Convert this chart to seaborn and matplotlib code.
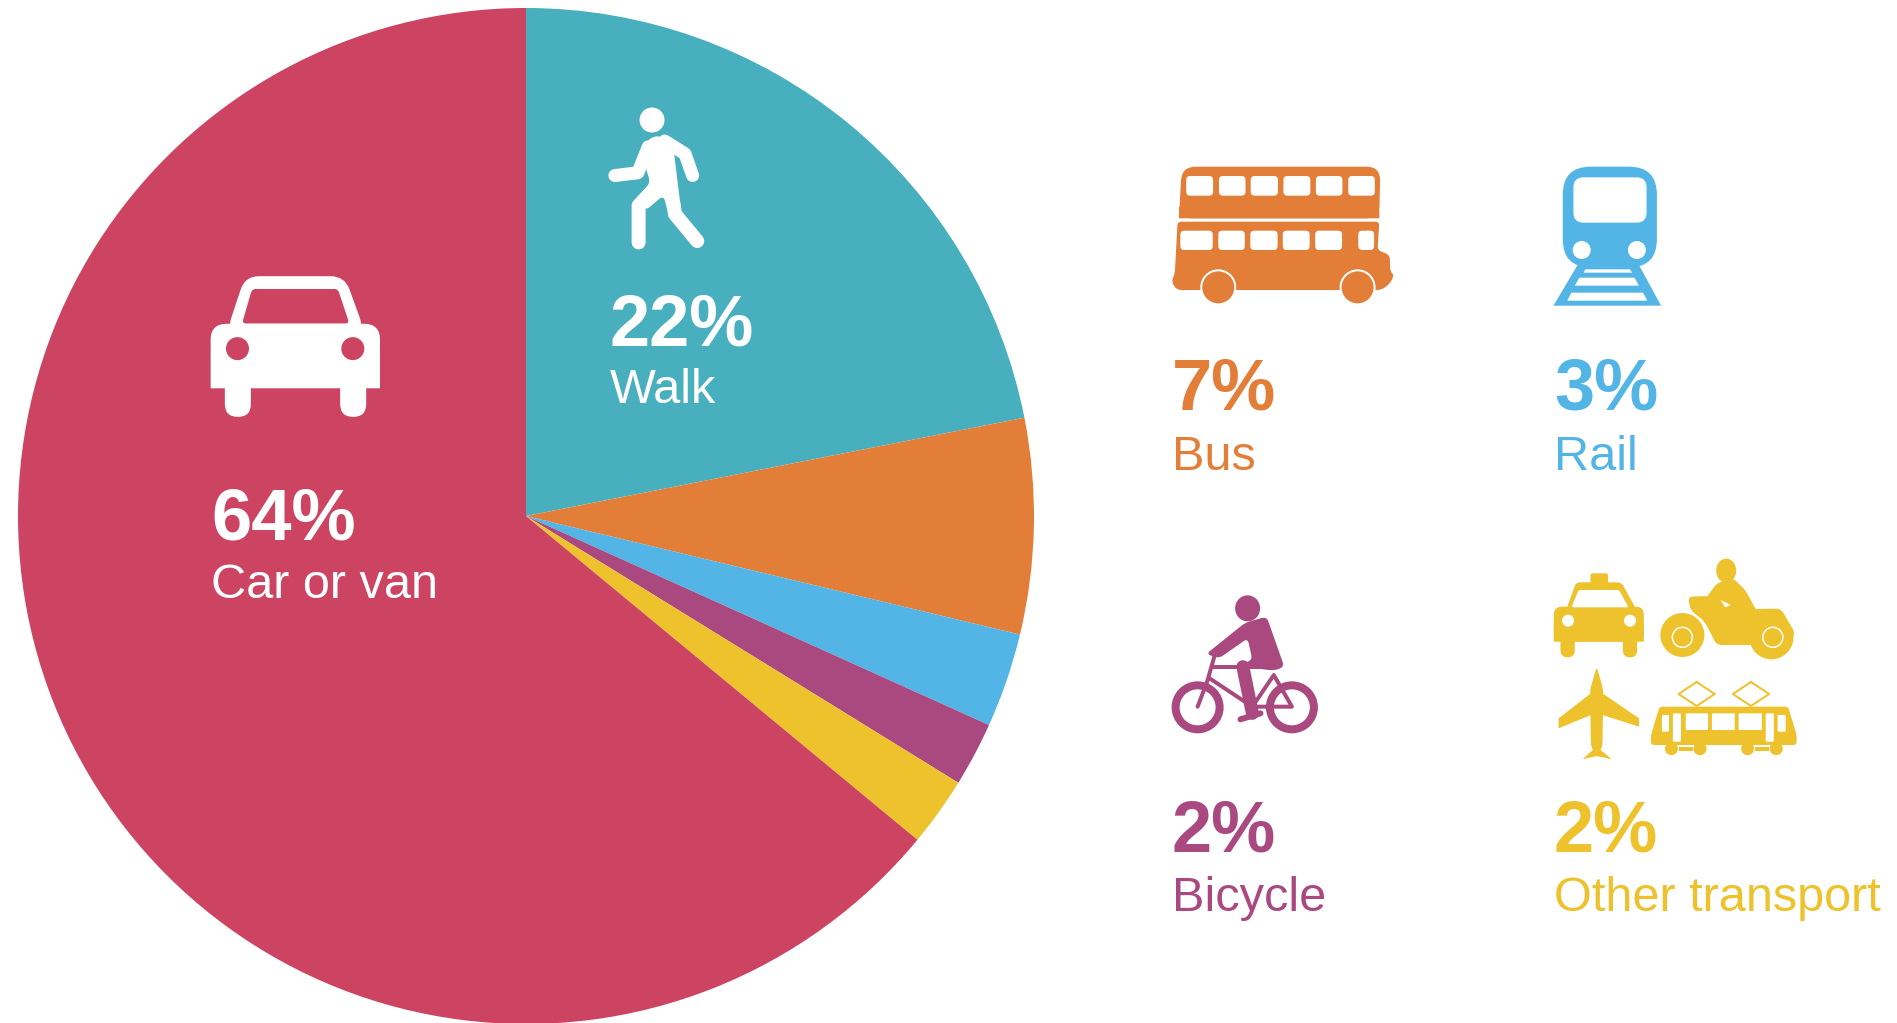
import math
import matplotlib
matplotlib.use("Agg")
import matplotlib.pyplot as plt
import seaborn as sns
from matplotlib.patches import Circle, Ellipse, FancyBboxPatch, Polygon, PathPatch
from matplotlib.path import Path
from matplotlib.lines import Line2D

# ---- data ----
categories = ["Walk", "Bus", "Rail", "Bicycle", "Other transport", "Car or van"]
shares = [21.9, 6.85, 3.0, 2.05, 2.2, 64.0]
colours = ["#47AFBE", "#E37E38", "#53B5E6", "#A9497F", "#EDC22C", "#CC4461"]

sns.set_theme(style="white")
plt.rcParams["font.family"] = ["Liberation Sans", "DejaVu Sans"]
palette = sns.color_palette(colours)
col = dict(zip(categories, palette))
W = (1, 1, 1)

fig = plt.figure(figsize=(18.97, 10.23), dpi=100, facecolor="white")
PW, PH = 1897, 1023
cx, cy, R = 526, 516, 508
axp = fig.add_axes([(cx - R) / PW, (PH - cy - R) / PH, 2 * R / PW, 2 * R / PH])
wedges, _ = axp.pie(shares, colors=palette, startangle=90, counterclock=False,
                    radius=1, wedgeprops=dict(linewidth=0))
for w in wedges:
    w.set_clip_on(False)
axp.set_xlim(-1, 1)
axp.set_ylim(-1, 1)
axp.axis("off")

ax = fig.add_axes([0, 0, 1, 1], facecolor="none")
ax.set_xlim(0, PW)
ax.set_ylim(PH, 0)
ax.axis("off")

# ---- labels ----
label_pos = {
    "Walk": (610, 345, 403), "Car or van": (211, 539, 598),
    "Bus": (1172, 410, 470), "Rail": (1554, 410, 470),
    "Bicycle": (1172, 852, 911), "Other transport": (1554, 852, 911),
}
for name, share in zip(categories, shares):
    x, y1, y2 = label_pos[name]
    c = W if name in ("Walk", "Car or van") else col[name]
    ax.text(x, y1, f"{round(share)}%", color=c, fontsize=52, fontweight="bold", va="baseline", ha="left")
    ax.text(x, y2, name, color=c, fontsize=35, va="baseline", ha="left")

# ---- icon helpers (decoration, in pixel space) ----
def mapper(x0, y0, kx, ky):
    return lambda p: (x0 + p[0] / kx, y0 + p[1] / ky)

def poly(m, pts, c, r=0, z=3):
    xy = [m(p) for p in pts]
    n = len(xy)
    if r <= 0:
        ax.add_patch(Polygon(xy, closed=True, fc=c, ec="none", zorder=z))
        return
    verts, codes = [], []
    for i in range(n):
        p0, p1, p2 = xy[i - 1], xy[i], xy[(i + 1) % n]
        d1 = math.dist(p0, p1)
        d2 = math.dist(p1, p2)
        t1 = min(r, d1 / 2) / d1
        t2 = min(r, d2 / 2) / d2
        a = (p1[0] + (p0[0] - p1[0]) * t1, p1[1] + (p0[1] - p1[1]) * t1)
        b = (p1[0] + (p2[0] - p1[0]) * t2, p1[1] + (p2[1] - p1[1]) * t2)
        verts += [a, p1, b]
        codes += [Path.MOVETO if i == 0 else Path.LINETO, Path.CURVE3, Path.CURVE3]
    verts.append(verts[0])
    codes.append(Path.CLOSEPOLY)
    ax.add_patch(PathPatch(Path(verts, codes), fc=c, ec="none", zorder=z))

def rrect(m, x0, y0, x1, y1, r, c, z=3):
    a, b = m((x0, y0)), m((x1, y1))
    r = min(r, abs(b[0] - a[0]) / 2, abs(b[1] - a[1]) / 2)
    ax.add_patch(FancyBboxPatch((a[0], a[1]), b[0] - a[0], b[1] - a[1],
                                boxstyle=f"round,pad=0,rounding_size={r}",
                                fc=c, ec="none", zorder=z))

def circ(m, p, r, c, z=3, ec=None, lw=0):
    ax.add_patch(Circle(m(p), r, fc=c, ec=ec or "none", lw=lw * 0.72, zorder=z))

def line(m, pts, c, w, z=3, cap="round"):
    xy = [m(p) for p in pts]
    ax.add_line(Line2D([q[0] for q in xy], [q[1] for q in xy], color=c, lw=w * 0.72,
                       solid_capstyle=cap, solid_joinstyle="round", zorder=z))

# bus
m = mapper(1150, 140, 2.9, 3)
c = col["Bus"]
poly(m, [(84, 235), (92, 80), (668, 80), (665, 235)], c, 14)
rrect(m, 84, 200, 665, 235, 0, c)
poly(m, [(80, 245), (665, 245), (660, 330), (695, 345), (697, 395), (708, 405), (695, 432),
         (670, 450), (78, 450), (62, 425), (72, 400)], c, 4)
for a, b in [(105, 183), (200, 277), (292, 371), (387, 465), (481, 558), (575, 652)]:
    rrect(m, a, 108, b, 167, 4, W, 4)
for a, b in [(88, 182), (198, 275), (291, 370), (385, 463), (479, 557), (604, 650)]:
    rrect(m, a, 272, b, 330, 4, W, 4)
for p in [(198, 442), (602, 442)]:
    circ(m, p, 18, W, 4)
    circ(m, p, 16, c, 5)

# rail
c = col["Rail"]
rrect(m, 1197, 80, 1470, 382, 28, c)
rrect(m, 1228, 112, 1440, 248, 10, W, 4)
circ(m, (1252, 330), 9, W, 4)
circ(m, (1412, 330), 9, W, 4)
poly(m, [(1240, 375), (1418, 375), (1482, 497), (1170, 497)], c)
poly(m, [(1262, 388), (1392, 388), (1398, 398), (1258, 398)], W, 0, 4)
poly(m, [(1245, 413), (1405, 413), (1418, 437), (1232, 437)], W, 0, 4)
poly(m, [(1222, 458), (1430, 458), (1442, 482), (1210, 482)], W, 0, 4)

# walker
m = mapper(180, 90, 2.61, 2.9)
circ(m, (1232, 87), 12.5, W)
poly(m, [(1218, 145), (1250, 130), (1288, 170), (1308, 350), (1275, 362), (1262, 305),
         (1215, 350), (1188, 322), (1228, 268), (1215, 225)], W, 6)
line(m, [(1222, 165), (1195, 240), (1135, 248)], W, 13)
line(m, [(1265, 148), (1318, 185), (1338, 248)], W, 13)
line(m, [(1235, 290), (1197, 335), (1197, 442)], W, 14)
line(m, [(1288, 330), (1292, 360), (1350, 438)], W, 14)

# car
poly(m, [(122, 700), (170, 540), (430, 540), (482, 700)], W, 14)
poly(m, [(162, 677), (188, 577), (412, 577), (442, 677)], col["Car or van"], 4, 4)
rrect(m, 80, 678, 522, 800, 16, W)
rrect(m, 80, 760, 522, 865, 0, W)
rrect(m, 117, 830, 185, 948, 13, W)
rrect(m, 418, 830, 486, 948, 13, W)
for p in [(150, 750), (451, 750)]:
    circ(m, p, 11.5, col["Car or van"], 4)

# bicycle
m = mapper(1150, 550, 2.1, 3)
c = col["Bicycle"]
ax.add_patch(Ellipse(m((205, 175)), 25, 26, fc=c, ec="none", zorder=3))
poly(m, [(200, 218), (245, 200), (282, 350), (262, 362), (180, 348), (215, 330), (205, 265),
         (145, 325), (118, 312)], c, 5)
for p in [(100, 472), (298, 472)]:
    circ(m, p, 22, "none", 3, ec=c, lw=8)
line(m, [(135, 320), (120, 395), (100, 470)], c, 4)
line(m, [(130, 350), (262, 350)], c, 4)
line(m, [(125, 385), (215, 470), (260, 375), (298, 470), (215, 470)], c, 4)
line(m, [(195, 350), (215, 490)], c, 13)
line(m, [(190, 508), (232, 490)], c, 6)

# other transport
c = col["Other transport"]
# taxi
rrect(m, 925, 70, 962, 110, 2, c)
poly(m, [(875, 175), (895, 97), (990, 97), (1020, 175)], c, 4)
poly(m, [(885, 172), (900, 120), (985, 120), (1005, 172)], W, 2, 4)
rrect(m, 848, 170, 1037, 275, 8, c)
rrect(m, 848, 220, 1037, 275, 0, c)
rrect(m, 862, 255, 892, 322, 7, c)
rrect(m, 993, 255, 1023, 322, 7, c)
circ(m, (878, 212), 6, W, 4)
circ(m, (1008, 212), 6, W, 4)
# motorbike
ax.add_patch(Ellipse(m((1210, 62)), 20, 24, fc=c, ec="none", zorder=3))
poly(m, [(1190, 100), (1225, 85), (1250, 120), (1275, 185), (1215, 205), (1165, 150)], c, 4)
poly(m, [(1198, 150), (1220, 165), (1208, 172)], W, 0, 4)
poly(m, [(1130, 140), (1175, 138), (1205, 178), (1325, 176), (1355, 250), (1340, 285),
         (1190, 285), (1165, 215), (1135, 180)], c, 5)
circ(m, (1118, 255), 22, c, 3)
circ(m, (1118, 262), 10, "none", 4, ec=W, lw=1.5)
circ(m, (1305, 262), 22, c, 3)
circ(m, (1308, 262), 10, "none", 4, ec=W, lw=1.5)
# plane
poly(m, [(938, 350), (952, 420), (950, 590), (938, 620), (926, 590), (924, 420)], c, 4)
poly(m, [(950, 430), (1027, 505), (1027, 530), (950, 495)], c)
poly(m, [(926, 430), (858, 505), (858, 535), (926, 495)], c)
poly(m, [(938, 590), (970, 628), (938, 618), (908, 628)], c, 2)
# tram
poly(m, [(1070, 470), (1340, 470), (1358, 555), (1358, 585), (1052, 585), (1052, 555)], c, 3)
for a, b, t, u in [(1075, 1090, 495, 545), (1098, 1115, 490, 575), (1125, 1172, 490, 540),
                   (1180, 1228, 490, 540), (1236, 1285, 490, 540), (1293, 1310, 490, 575),
                   (1318, 1335, 495, 545)]:
    rrect(m, a, t, b, u, 1, W, 4)
for x in (1095, 1155, 1255, 1315):
    circ(m, (x, 596), 6.5, c)
for a, b in [(1110, 1140), (1270, 1300)]:
    line(m, [(a, 596), (b, 596)], c, 4, cap="butt")
for x in (1148, 1262):
    line(m, [(x, 396), (x + 38, 432), (x, 468), (x - 38, 432), (x, 396)], c, 2)

fig.savefig("out.png", dpi=100, facecolor="white")
